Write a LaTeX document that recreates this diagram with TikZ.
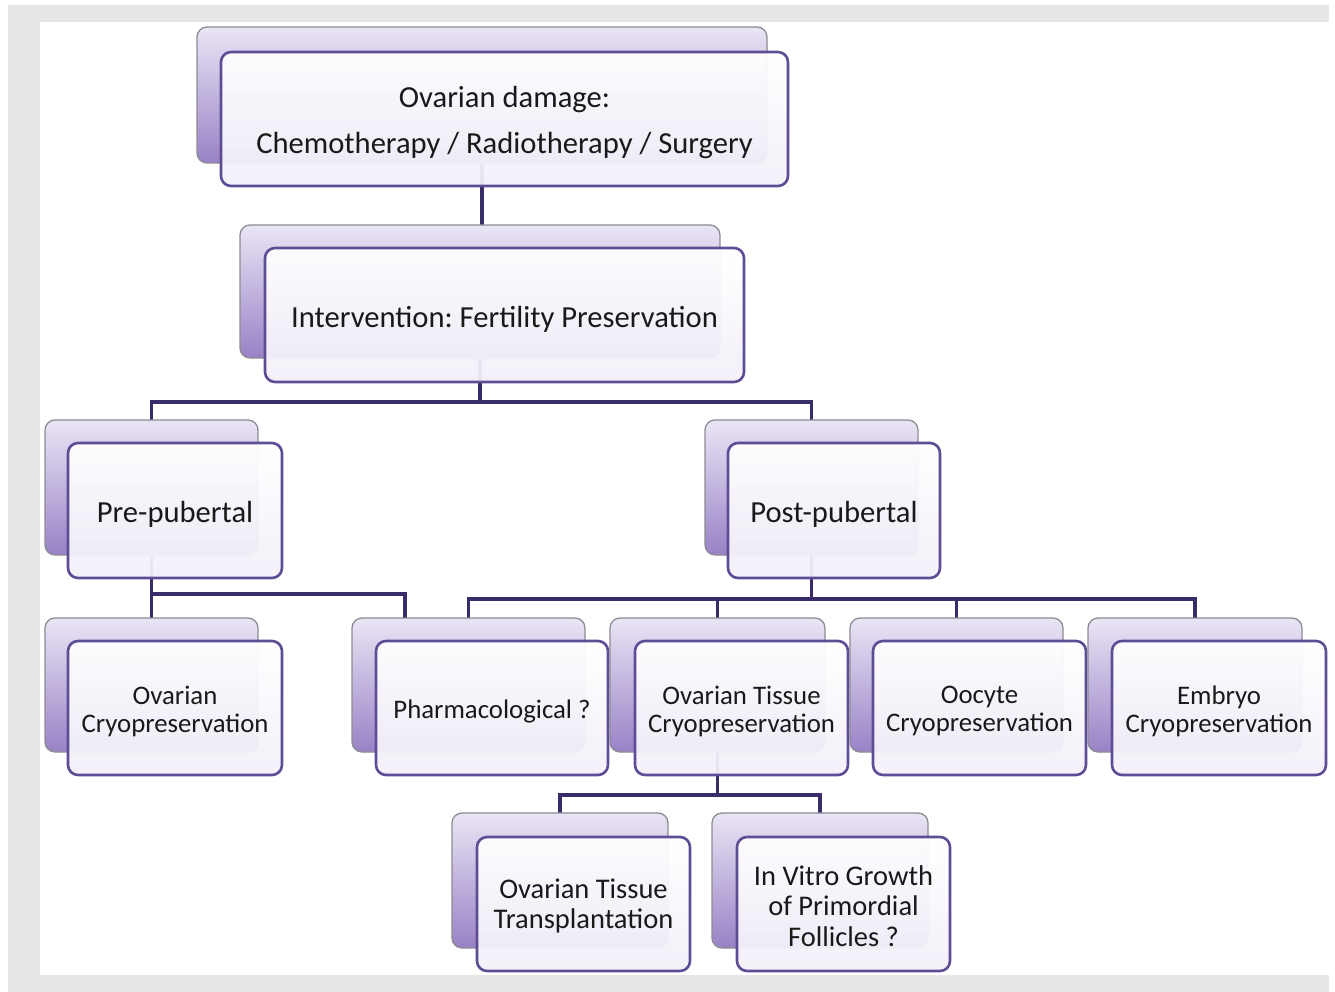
\documentclass[tikz,border=0pt]{standalone}
\usepackage{fontspec}
\setmainfont{Carlito}
\frenchspacing
\definecolor{frame}{RGB}{230,230,230}
\definecolor{frontline}{RGB}{94,77,150}
\definecolor{connc}{RGB}{58,44,104}
\definecolor{backline}{RGB}{140,140,146}
\definecolor{lavtop}{RGB}{234,229,245}
\definecolor{lavbot}{RGB}{152,130,198}
\definecolor{fronttop}{RGB}{255,255,255}
\definecolor{frontbot}{RGB}{243,240,249}
\definecolor{txt}{RGB}{25,25,25}
\tikzset{
  backbox/.style={draw=backline, line width=1.3pt, rounded corners=10pt,
    top color=lavtop, bottom color=lavbot, inner sep=0pt},
  frontbox/.style={draw=frontline, line width=2.6pt, rounded corners=10pt,
    top color=fronttop, bottom color=frontbot, fill opacity=0.94, draw opacity=1,
    inner sep=0pt},
  lab/.style={align=center, text=txt, inner sep=0pt, fill opacity=1, text opacity=1},
  bigtext/.style={lab, yshift=-4pt, font=\fontsize{30.6}{34}\selectfont},
  midtext/.style={lab, yshift=-3pt, font=\fontsize{26.8}{28}\selectfont},
  lowtext/.style={lab, yshift=-2pt, font=\fontsize{28.5}{30.5}\selectfont},
  conn/.style={draw=connc, line width=3.2pt},
}
\begin{document}
\begin{tikzpicture}[x=1pt,y=-1pt]
\useasboundingbox (0,0) rectangle (1335,992);
\fill[white] (0,0) rectangle (1335,992);
\fill[frame] (8,5) rectangle (1329,992);
\fill[white] (40,22) rectangle (1329,975);

% bus coordinates
\coordinate (bus1) at (0,402);
\coordinate (bus2) at (0,594);
\coordinate (bus3) at (0,599);
\coordinate (bus4) at (0,795);
\coordinate (pharmL) at (405,618);

% back box placeholders (for connectors)
\path
  node[minimum width=570pt, minimum height=136pt] (top-b) at (482,95) {}
  node[minimum width=480pt, minimum height=133pt] (int-b) at (480,291.5) {}
  node[minimum width=213pt, minimum height=135pt] (pre-b) at (151.5,487.5) {}
  node[minimum width=213pt, minimum height=135pt] (post-b) at (811.5,487.5) {}
  node[minimum width=213pt, minimum height=134pt] (ovc-b) at (151.5,685) {}
  node[minimum width=233pt, minimum height=134pt] (pha-b) at (468.5,685) {}
  node[minimum width=215pt, minimum height=134pt] (otc-b) at (717.5,685) {}
  node[minimum width=213pt, minimum height=134pt] (ooc-b) at (956.5,685) {}
  node[minimum width=214pt, minimum height=134pt] (emb-b) at (1195,685) {}
  node[minimum width=216pt, minimum height=135pt] (ott-b) at (560,880.5) {}
  node[minimum width=216pt, minimum height=135pt] (ivg-b) at (820,880.5) {};

% connectors (behind boxes)
\draw[conn] (top-b.center) -- (top-b.center |- int-b.north);
\draw[conn] (int-b.center) -- (int-b.center |- bus1) -| (pre-b.north);
\draw[conn] (int-b.center |- bus1) -| (post-b.north);
\draw[conn] (pre-b.center) -- (ovc-b.north);
\draw[conn] (pre-b.center |- bus2) -| (pharmL);
\draw[conn] (post-b.center) -- (post-b.center |- bus3) -| (pha-b.north);
\draw[conn] (post-b.center |- bus3) -| (otc-b.north);
\draw[conn] (post-b.center |- bus3) -| (ooc-b.north);
\draw[conn] (post-b.center |- bus3) -| (emb-b.north);
\draw[conn] (otc-b.center) -- (otc-b.center |- bus4) -| (ott-b.north);
\draw[conn] (otc-b.center |- bus4) -| (ivg-b.north);

% boxes
\node[backbox, minimum width=570pt, minimum height=136pt] at (top-b) {};
\node[frontbox, minimum width=567pt, minimum height=134pt,
  label={[bigtext]center:{Ovarian damage:\\[12pt]Chemotherapy / Radiotherapy / Surgery}}]
  (top) at (504.5,119) {};

\node[backbox, minimum width=480pt, minimum height=133pt] at (int-b) {};
\node[frontbox, minimum width=479pt, minimum height=134pt,
  label={[bigtext]center:{Intervention: Fertility Preservation}}]
  (int) at (504.5,315) {};

\node[backbox, minimum width=213pt, minimum height=135pt] at (pre-b) {};
\node[frontbox, minimum width=214pt, minimum height=135pt,
  label={[bigtext]center:{Pre-pubertal}}]
  (pre) at (175,510.5) {};

\node[backbox, minimum width=213pt, minimum height=135pt] at (post-b) {};
\node[frontbox, minimum width=212pt, minimum height=135pt,
  label={[bigtext]center:{Post-pubertal}}]
  (post) at (834,510.5) {};

\node[backbox, minimum width=213pt, minimum height=134pt] at (ovc-b) {};
\node[frontbox, minimum width=214pt, minimum height=134pt,
  label={[midtext]center:{Ovarian\\Cryopreservation}}]
  (ovc) at (175,708) {};

\node[backbox, minimum width=233pt, minimum height=134pt] at (pha-b) {};
\node[frontbox, minimum width=232pt, minimum height=134pt,
  label={[midtext]center:{Pharmacological ?}}]
  (pha) at (492,708) {};

\node[backbox, minimum width=215pt, minimum height=134pt] at (otc-b) {};
\node[frontbox, minimum width=213pt, minimum height=134pt,
  label={[midtext]center:{Ovarian Tissue\\Cryopreservation}}]
  (otc) at (741.5,708) {};

\node[backbox, minimum width=213pt, minimum height=134pt] at (ooc-b) {};
\node[frontbox, minimum width=213pt, minimum height=134pt,
  label={[midtext]center:{Oocyte\\Cryopreservation}}]
  (ooc) at (979.5,708) {};

\node[backbox, minimum width=214pt, minimum height=134pt] at (emb-b) {};
\node[frontbox, minimum width=214pt, minimum height=134pt,
  label={[midtext]center:{Embryo\\Cryopreservation}}]
  (emb) at (1219,708) {};

\node[backbox, minimum width=216pt, minimum height=135pt] at (ott-b) {};
\node[frontbox, minimum width=213pt, minimum height=134pt,
  label={[lowtext]center:{Ovarian Tissue\\Transplantation}}]
  (ott) at (583.5,904) {};

\node[backbox, minimum width=216pt, minimum height=135pt] at (ivg-b) {};
\node[frontbox, minimum width=213pt, minimum height=134pt,
  label={[lowtext]center:{In Vitro Growth\\of Primordial\\Follicles ?}}]
  (ivg) at (843.5,904) {};
\end{tikzpicture}
\end{document}
